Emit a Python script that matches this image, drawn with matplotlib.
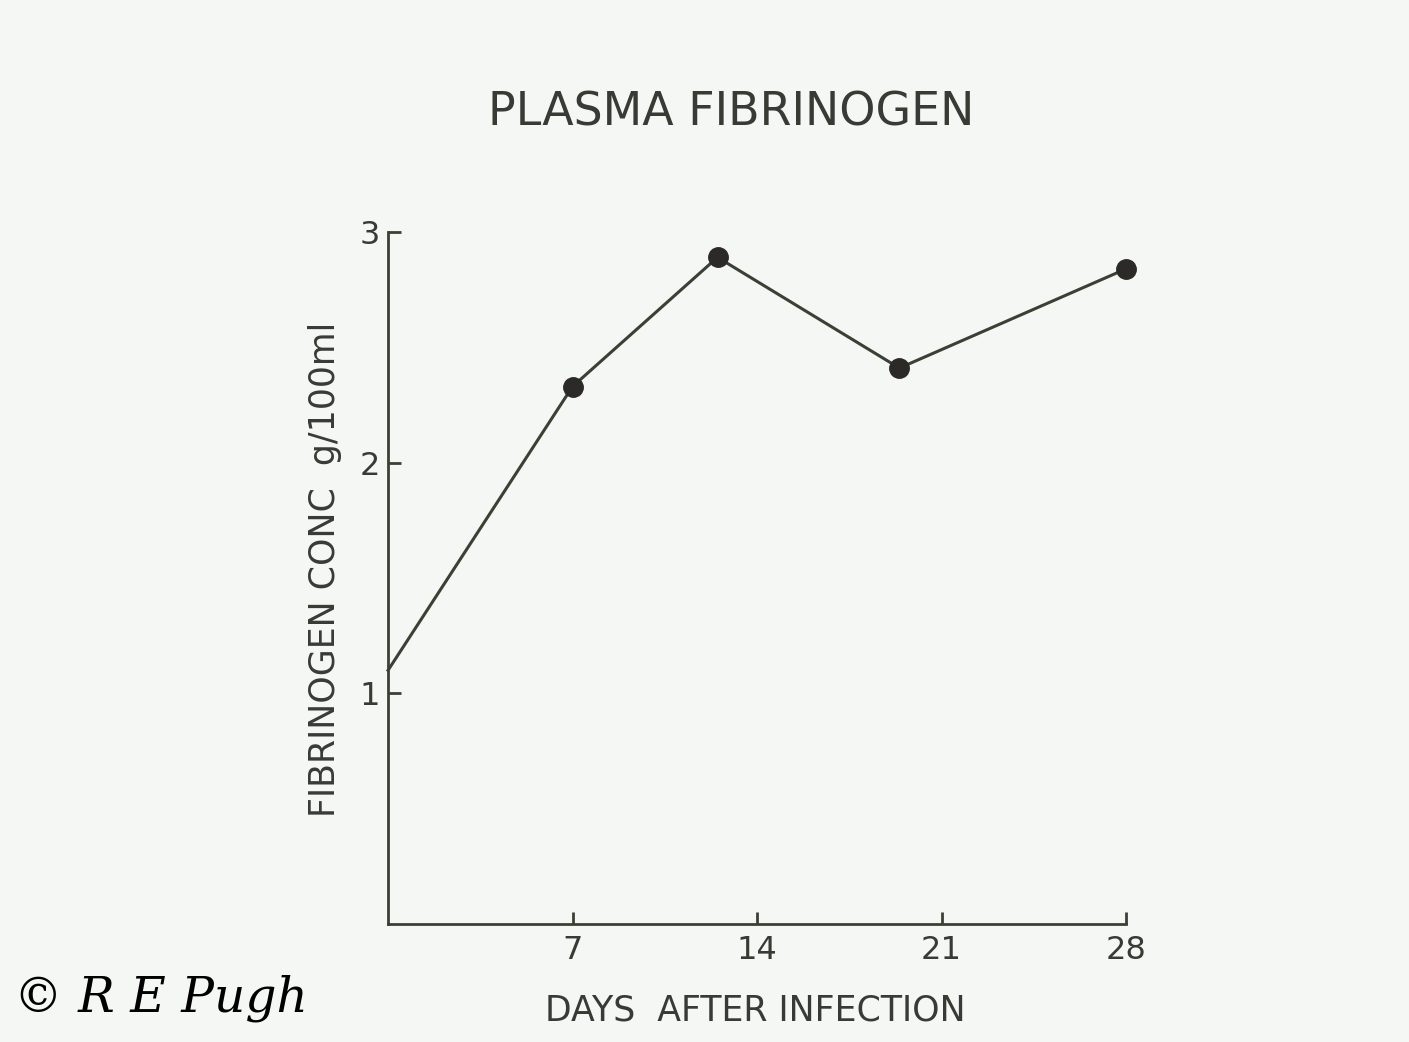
#!/usr/bin/env python3
"""Plasma fibrinogen after infection - recreated slide figure."""

import matplotlib
matplotlib.use("Agg")
import matplotlib.pyplot as plt

# values
days = [0, 7, 12.5, 19.4, 28]
fibrinogen = [1.10, 2.33, 2.89, 2.41, 2.84]
x_ticks = [7, 14, 21, 28]
x_tick_labels = ["7", "14", "21", "28"]
y_ticks = [1, 2, 3]
y_tick_labels = ["1", "2", "3"]

INK = "#3b3f34"
DOT = "#2c2a27"
BG = "#f5f7f4"


def main() -> None:
    plt.rcParams["font.family"] = ["DejaVu Sans"]
    fig = plt.figure(figsize=(14.09, 10.42), dpi=100, facecolor=BG)
    ax = fig.add_axes([0.2754, 0.1132, 0.5238, 0.6642])
    ax.set_facecolor(BG)

    ax.plot(days, fibrinogen, color=INK, linewidth=2.2, zorder=2,
            clip_on=False)
    ax.plot(days[1:], fibrinogen[1:], linestyle="none", marker="o",
            markersize=14, color=DOT, zorder=3, clip_on=False)

    ax.set_xlim(0, 28)
    ax.set_ylim(0, 3)
    for side in ("top", "right"):
        ax.spines[side].set_visible(False)
    for side in ("left", "bottom"):
        ax.spines[side].set_color(INK)
        ax.spines[side].set_linewidth(2.0)

    ax.set_xticks(x_ticks)
    ax.set_xticklabels(x_tick_labels)
    ax.set_yticks(y_ticks)
    ax.set_yticklabels(y_tick_labels)
    ax.tick_params(axis="both", direction="in", length=9, width=2.0,
                   color=INK, labelcolor="#3a3a35", labelsize=23)
    ax.tick_params(axis="x", pad=8)
    ax.tick_params(axis="y", pad=6)

    ax.set_xlabel("DAYS  AFTER INFECTION", fontsize=25, color="#3a3a35")
    ax.xaxis.set_label_coords(0.497, -0.100)
    ax.set_ylabel("FIBRINOGEN CONC  g/100ml", fontsize=25, color="#3a3a35")
    ax.yaxis.set_label_coords(-0.062, 0.512)

    fig.text(0.519, 0.892, "PLASMA FIBRINOGEN", ha="center", va="center",
             fontsize=33, color="#3a3a35")
    fig.text(0.01, 0.042, "\u00a9 R E Pugh", ha="left", va="center",
             fontsize=35, color="black", family="DejaVu Serif",
             style="italic")

    fig.savefig("out.png", dpi=100, facecolor=BG)
    plt.close(fig)


if __name__ == "__main__":
    main()
